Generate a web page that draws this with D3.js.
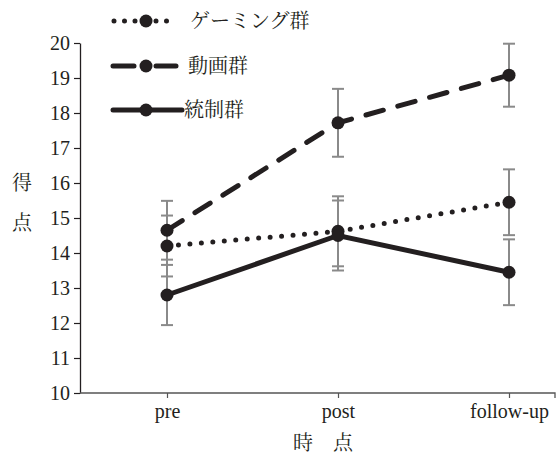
<!DOCTYPE html>
<html><head><meta charset="utf-8">
<script src="https://cdn.jsdelivr.net/npm/d3@7"></script>
<style>body{margin:0;background:#fff}</style>
</head><body>
<svg id="c" width="557" height="459"></svg>
<script>
const times = ["pre", "post", "follow-up"];
const groups = ["ゲーミング群", "動画群", "統制群"];
const gamingMean = [14.2, 14.62, 15.45];
const gamingSD = [0.87, 1.0, 0.94];
const videoMean = [14.65, 17.72, 19.08];
const videoSD = [0.84, 0.97, 0.9];
const controlMean = [12.8, 14.5, 13.45];
const controlSD = [0.86, 1.0, 0.94];
const yTicks = [10, 11, 12, 13, 14, 15, 16, 17, 18, 19, 20];

const series = [
  {name: groups[0], mean: gamingMean, sd: gamingSD, dash: "0 11.5", legDash: "0 10.5"},
  {name: groups[1], mean: videoMean, sd: videoSD, dash: "18 15", legDash: "21 22 20"},
  {name: groups[2], mean: controlMean, sd: controlSD, dash: null, legDash: null}
];

const ink = "#231f20", errC = "#8a8a8a";
const serif = "'Liberation Serif','Times New Roman',serif";
const jp = "'Noto Serif CJK JP','Noto Sans CJK JP',serif";
const svg = d3.select("#c");
const x = d3.scalePoint().domain(times).range([167, 509]);
const y = d3.scaleLinear().domain([10, 20]).range([393, 43]);

// y axis
const ya = svg.append("g").attr("transform", "translate(80,0)")
  .call(d3.axisLeft(y).tickValues(yTicks).tickSize(6).tickPadding(4).tickSizeOuter(0));
ya.select(".domain").attr("stroke", ink).attr("stroke-width", 1.3);
ya.selectAll(".tick line").attr("stroke", ink).attr("stroke-width", 1.2);
ya.selectAll(".tick text").attr("font-family", serif).attr("font-size", 20).attr("fill", ink);

// x axis
const xa = svg.append("g").attr("transform", "translate(0,393)")
  .call(d3.axisBottom(x).tickSize(5).tickPadding(6).tickSizeOuter(0));
xa.select(".domain").attr("d", "M80,0H555V5").attr("stroke", "#555").attr("stroke-width", 1.3);
xa.selectAll(".tick line").attr("stroke", "#555").attr("stroke-width", 1.2);
xa.selectAll(".tick text").attr("font-family", serif).attr("font-size", 20).attr("fill", ink);

// axis titles
svg.append("text").attr("x", 22).attr("y", 190).attr("text-anchor", "middle")
  .attr("font-family", jp).attr("font-size", 20).attr("fill", ink).text("得");
svg.append("text").attr("x", 22).attr("y", 230).attr("text-anchor", "middle")
  .attr("font-family", jp).attr("font-size", 20).attr("fill", ink).text("点");
svg.append("text").attr("x", 323).attr("y", 450).attr("text-anchor", "middle")
  .attr("font-family", jp).attr("font-size", 20).attr("fill", ink).attr("xml:space","preserve").text("時　点");

// lines
const line = d3.line().x((d, i) => x(times[i])).y(d => y(d));
series.forEach(s => {
  const p = svg.append("path").attr("d", line(s.mean)).attr("fill", "none")
    .attr("stroke", ink).attr("stroke-width", 5).attr("stroke-linecap", "round");
  if (s.dash) p.attr("stroke-dasharray", s.dash);
});

// error bars
series.forEach(s => {
  s.mean.forEach((m, i) => {
    const cx = x(times[i]), y1 = y(m + s.sd[i]), y2 = y(m - s.sd[i]);
    const g = svg.append("g").attr("stroke", errC).attr("stroke-width", 2);
    g.append("line").attr("x1", cx).attr("x2", cx).attr("y1", y1).attr("y2", y2);
    g.append("line").attr("x1", cx - 6).attr("x2", cx + 6).attr("y1", y1).attr("y2", y1);
    g.append("line").attr("x1", cx - 6).attr("x2", cx + 6).attr("y1", y2).attr("y2", y2);
  });
});

// markers
series.forEach(s => {
  s.mean.forEach((m, i) => {
    svg.append("circle").attr("cx", x(times[i])).attr("cy", y(m)).attr("r", 6.5).attr("fill", ink);
  });
});

// legend
const legY = [21, 66, 110];
const legStart = [114, 113, 113];
const legEnd = [176, 176, 182];
const legText = [190, 188, 184];
series.forEach((s, i) => {
  const p = svg.append("path").attr("d", `M${legStart[i]},${legY[i]}H${legEnd[i]}`)
    .attr("stroke", ink).attr("stroke-width", 5).attr("stroke-linecap", "round");
  if (s.legDash) p.attr("stroke-dasharray", s.legDash);
  svg.append("circle").attr("cx", 146).attr("cy", legY[i]).attr("r", 6.5).attr("fill", ink);
  svg.append("text").attr("x", legText[i]).attr("y", legY[i] + 7).attr("font-family", jp)
    .attr("font-size", 20).attr("fill", ink).text(s.name);
});
</script>
</body></html>
